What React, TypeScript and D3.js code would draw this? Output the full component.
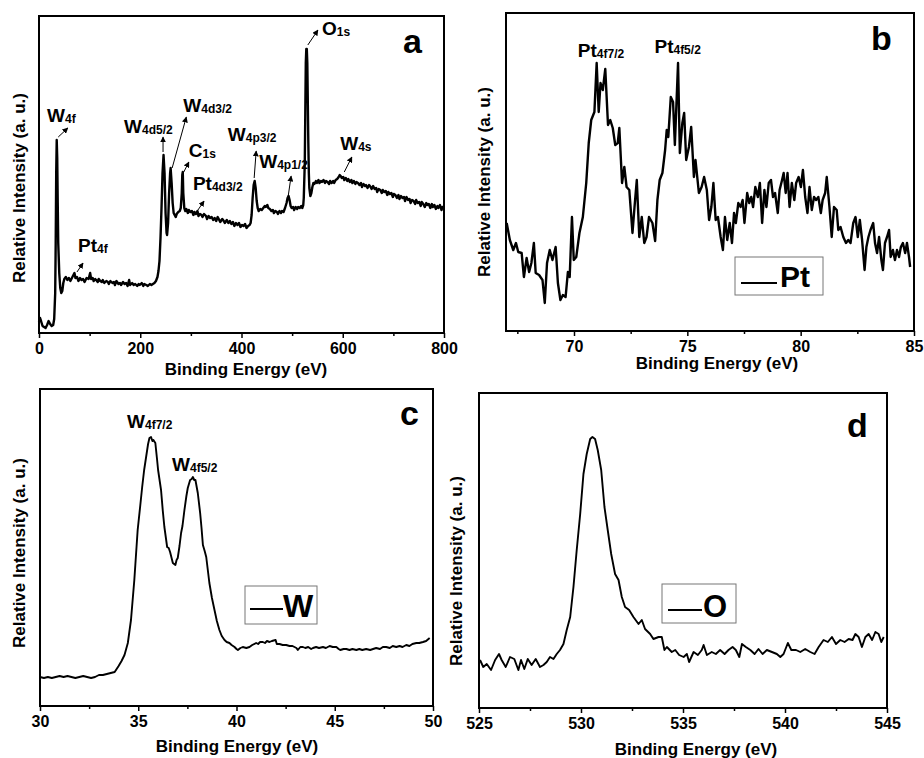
import React, { useEffect, useRef } from "react";
import * as d3 from "d3";

type P = [number, number];

// ---- data (binding energy eV, relative intensity a.u.) ----
const surveyData: P[] = [
  [0, 11], [2, 15], [4, 12], [7, 7], [10, 6], [13, 5], [16, 8], [19, 12], [22, 9], [25, 7], [28, 8], [30, 14],
  [32, 40], [33, 90], [34, 160], [35, 193], [36, 175], [37, 130], [38, 90], [40, 60], [42, 45], [44, 40], [46, 42],
  [48, 50], [50, 54], [53, 56], [56, 53], [59, 55], [62, 52], [65, 55], [68, 58], [70, 60], [72, 55], [75, 56],
  [78, 52], [81, 55], [84, 53], [87, 54], [90, 51], [94, 55], [98, 54], [101, 60], [103, 54], [106, 55], [108, 52],
  [111, 54], [113, 53], [116, 51], [118, 54], [121, 52], [124, 51], [126, 53], [129, 50], [133, 52], [136, 51],
  [138, 49], [141, 52], [145, 50], [148, 51], [150, 48], [153, 52], [157, 49], [160, 50], [162, 48], [166, 51],
  [169, 49], [172, 50], [175, 47], [178, 53], [180, 48], [184, 50], [187, 48], [190, 49], [194, 47], [197, 49],
  [199, 48], [203, 50], [206, 47], [208, 49], [212, 48], [215, 47], [219, 49], [222, 48], [225, 49], [228, 50],
  [231, 52], [234, 56], [236, 62], [238, 72], [240, 95], [242, 125], [244, 160], [246, 178], [248, 160], [250, 120],
  [252, 100], [253, 98], [255, 110], [257, 140], [259, 160], [260, 165], [262, 150], [264, 130], [266, 120],
  [268, 118], [270, 116], [272, 119], [275, 121], [278, 122], [280, 125], [282, 140], [283, 158], [284, 161],
  [285, 140], [287, 125], [289, 122], [291, 124], [294, 120], [296, 123], [299, 121], [302, 122], [305, 118],
  [307, 121], [310, 119], [313, 122], [315, 117], [318, 119], [321, 118], [323, 116], [326, 119], [330, 117],
  [332, 114], [335, 117], [338, 115], [341, 116], [344, 113], [347, 115], [350, 112], [353, 116], [356, 113],
  [358, 111], [362, 114], [365, 112], [367, 110], [371, 113], [374, 110], [377, 112], [380, 109], [383, 111],
  [386, 107], [389, 110], [392, 108], [395, 110], [398, 106], [401, 108], [404, 107], [407, 109], [410, 105],
  [413, 107], [416, 108], [418, 110], [420, 118], [422, 135], [424, 148], [426, 152], [428, 145], [430, 132],
  [432, 125], [434, 122], [437, 124], [440, 123], [443, 125], [446, 127], [448, 126], [451, 128], [453, 125],
  [456, 124], [459, 122], [462, 123], [464, 120], [467, 122], [470, 121], [472, 119], [475, 122], [478, 120],
  [480, 122], [483, 121], [486, 125], [489, 130], [491, 135], [493, 137], [495, 133], [497, 127], [499, 125],
  [502, 126], [504, 123], [507, 126], [510, 124], [512, 126], [515, 125], [518, 127], [520, 125], [522, 128],
  [523, 135], [525, 170], [526, 220], [527, 270], [528, 284], [529, 284], [530, 270], [531, 230], [532, 190],
  [533, 160], [534, 145], [536, 137], [538, 140], [540, 146], [542, 150], [544, 149], [547, 152], [549, 150],
  [552, 153], [554, 150], [557, 152], [559, 151], [562, 153], [565, 150], [567, 152], [570, 151], [573, 149],
  [575, 152], [578, 150], [581, 152], [583, 150], [586, 153], [589, 154], [592, 156], [594, 158], [596, 157],
  [598, 155], [601, 156], [603, 153], [606, 155], [609, 152], [611, 154], [614, 151], [617, 153], [619, 150],
  [622, 152], [625, 149], [627, 151], [630, 150], [633, 148], [636, 150], [638, 146], [641, 149], [644, 147],
  [646, 148], [649, 145], [652, 148], [655, 146], [657, 144], [660, 147], [663, 144], [666, 145], [668, 141],
  [671, 144], [674, 143], [677, 140], [679, 143], [682, 141], [685, 142], [688, 138], [690, 141], [693, 139],
  [696, 140], [699, 136], [701, 139], [704, 138], [707, 135], [710, 138], [712, 134], [715, 137], [718, 135],
  [721, 136], [723, 132], [726, 136], [729, 133], [732, 134], [734, 130], [737, 133], [740, 132], [743, 129],
  [745, 133], [748, 130], [751, 131], [754, 127], [756, 131], [759, 129], [762, 126], [765, 130], [767, 128],
  [770, 129], [773, 125], [776, 129], [778, 126], [781, 128], [784, 124], [787, 127], [789, 125], [792, 128],
  [795, 123], [797, 126], [800, 125],
];

const ptData: P[] = [
  [67.03, 108], [67.17, 91], [67.32, 81], [67.44, 88], [67.54, 79], [67.69, 78], [67.79, 54], [67.91, 73],
  [68.02, 59], [68.12, 68], [68.23, 88], [68.31, 58], [68.46, 56], [68.61, 51], [68.71, 28], [68.81, 68],
  [68.93, 81], [69.05, 71], [69.19, 84], [69.29, 48], [69.4, 31], [69.51, 36], [69.63, 34], [69.73, 59],
  [69.81, 54], [69.91, 114], [69.99, 71], [70.1, 74], [70.24, 98], [70.39, 114], [70.54, 148], [70.65, 188],
  [70.76, 211], [70.9, 219], [71.0, 268], [71.09, 219], [71.17, 248], [71.27, 241], [71.38, 262], [71.5, 206],
  [71.6, 211], [71.71, 203], [71.82, 186], [71.93, 188], [72.0, 203], [72.12, 148], [72.22, 164], [72.32, 144],
  [72.44, 141], [72.58, 98], [72.67, 124], [72.77, 151], [72.88, 94], [72.99, 114], [73.1, 88], [73.2, 94],
  [73.31, 114], [73.46, 108], [73.58, 90], [73.68, 131], [73.78, 151], [73.9, 158], [74.02, 181], [74.09, 201],
  [74.16, 194], [74.27, 234], [74.37, 229], [74.45, 186], [74.59, 268], [74.67, 178], [74.78, 208], [74.86, 218],
  [74.95, 171], [75.07, 184], [75.17, 204], [75.29, 154], [75.36, 171], [75.51, 138], [75.63, 144], [75.74, 154],
  [75.86, 141], [75.96, 111], [76.06, 124], [76.15, 148], [76.25, 111], [76.35, 114], [76.47, 94], [76.57, 81],
  [76.66, 114], [76.76, 91], [76.87, 108], [76.97, 88], [77.06, 118], [77.14, 108], [77.25, 128], [77.35, 124],
  [77.44, 131], [77.52, 108], [77.64, 138], [77.73, 128], [77.82, 134], [77.9, 124], [78.0, 144], [78.11, 134],
  [78.2, 148], [78.3, 108], [78.4, 141], [78.49, 124], [78.59, 148], [78.69, 151], [78.78, 134], [78.87, 138],
  [78.99, 118], [79.07, 141], [79.18, 151], [79.25, 158], [79.34, 138], [79.42, 158], [79.51, 124], [79.61, 148],
  [79.72, 131], [79.8, 148], [79.91, 154], [80.01, 144], [80.1, 161], [80.2, 134], [80.3, 118], [80.39, 144],
  [80.49, 121], [80.59, 134], [80.68, 131], [80.78, 134], [80.89, 118], [80.97, 131], [81.08, 138], [81.15, 154],
  [81.27, 124], [81.37, 94], [81.47, 124], [81.59, 121], [81.66, 101], [81.76, 104], [81.88, 94], [82.0, 88],
  [82.1, 91], [82.2, 88], [82.32, 108], [82.42, 114], [82.52, 94], [82.61, 111], [82.71, 91], [82.82, 61],
  [82.9, 84], [82.99, 94], [83.08, 101], [83.2, 108], [83.28, 88], [83.37, 78], [83.46, 94], [83.56, 71],
  [83.63, 61], [83.72, 88], [83.81, 94], [83.9, 101], [83.97, 74], [84.07, 81], [84.16, 71], [84.25, 81],
  [84.34, 74], [84.42, 84], [84.51, 88], [84.61, 78], [84.69, 88], [84.78, 74], [84.83, 64],
];

const wData: P[] = [
  [30.0, 29], [30.2, 28], [30.4, 29], [30.6, 28], [30.8, 29], [31.0, 30], [31.2, 29], [31.4, 30], [31.6, 29],
  [31.8, 28], [32.0, 29], [32.2, 30], [32.4, 29], [32.6, 28], [32.8, 29], [33.0, 31], [33.2, 31], [33.4, 32],
  [33.6, 33], [33.8, 34], [34.0, 40], [34.15, 45], [34.3, 51], [34.47, 63], [34.63, 86], [34.8, 126], [34.97, 176],
  [35.1, 200], [35.2, 219], [35.3, 236], [35.4, 249], [35.5, 262], [35.57, 268], [35.65, 269], [35.72, 265],
  [35.77, 266], [35.87, 263], [35.95, 248], [36.01, 236], [36.16, 216], [36.25, 195], [36.33, 179], [36.47, 159],
  [36.55, 158], [36.62, 154], [36.76, 143], [36.89, 141], [36.95, 146], [37.01, 148], [37.1, 160], [37.18, 173],
  [37.25, 180], [37.35, 196], [37.45, 210], [37.52, 218], [37.64, 226], [37.72, 227], [37.78, 229], [37.85, 226],
  [37.91, 226], [38.03, 213], [38.15, 193], [38.22, 178], [38.29, 161], [38.38, 155], [38.46, 149], [38.62, 123],
  [38.75, 108], [38.88, 96], [39.0, 85], [39.13, 76], [39.25, 70], [39.39, 66], [39.5, 64], [39.64, 63],
  [39.75, 61], [39.9, 59], [40.0, 57], [40.07, 56], [40.2, 58], [40.32, 59], [40.5, 58], [40.66, 59], [40.8, 61],
  [41.0, 63], [41.1, 62], [41.2, 64], [41.34, 64], [41.45, 63], [41.55, 65], [41.68, 64], [41.8, 65], [41.99, 66],
  [42.05, 62], [42.19, 62], [42.35, 61], [42.53, 61], [42.7, 60], [42.85, 60], [42.95, 59], [43.05, 58],
  [43.12, 56], [43.25, 59], [43.38, 59], [43.5, 58], [43.65, 59], [43.8, 57], [43.89, 58], [44.05, 59],
  [44.2, 58], [44.4, 59], [44.55, 58], [44.74, 60], [44.9, 59], [45.08, 59], [45.2, 57], [45.28, 56], [45.45, 57],
  [45.59, 57], [45.75, 56], [45.9, 57], [46.1, 56], [46.25, 57], [46.4, 56], [46.6, 57], [46.8, 56], [46.95, 57],
  [47.11, 58], [47.3, 57], [47.45, 59], [47.62, 59], [47.8, 58], [47.95, 60], [48.13, 59], [48.3, 60], [48.45, 59],
  [48.64, 61], [48.8, 60], [48.95, 62], [49.15, 63], [49.3, 63], [49.49, 64], [49.65, 65], [49.83, 68],
];

const oData: P[] = [
  [525.05, 48], [525.21, 41], [525.38, 44], [525.59, 38], [525.79, 48], [525.98, 54], [526.11, 48], [526.31, 41],
  [526.52, 51], [526.73, 49], [526.93, 38], [527.06, 48], [527.22, 39], [527.39, 49], [527.58, 43], [527.78, 49],
  [527.99, 41], [528.16, 43], [528.32, 46], [528.48, 51], [528.65, 49], [528.81, 54], [528.97, 58], [529.14, 64],
  [529.3, 78], [529.47, 91], [529.63, 121], [529.79, 158], [529.96, 194], [530.12, 234], [530.28, 254],
  [530.45, 269], [530.56, 271], [530.69, 269], [530.82, 258], [530.99, 238], [531.15, 201], [531.31, 178],
  [531.48, 154], [531.67, 134], [531.84, 128], [532.0, 111], [532.16, 101], [532.36, 98], [532.57, 91],
  [532.82, 84], [532.98, 88], [533.14, 79], [533.39, 74], [533.55, 69], [533.8, 71], [533.96, 71], [534.09, 58],
  [534.21, 61], [534.45, 56], [534.62, 58], [534.81, 53], [535.03, 51], [535.19, 54], [535.3, 46], [535.52, 56],
  [535.73, 53], [535.92, 58], [536.01, 63], [536.17, 53], [536.41, 56], [536.61, 54], [536.82, 58], [537.04, 54],
  [537.23, 58], [537.43, 61], [537.59, 58], [537.76, 51], [537.89, 64], [538.08, 61], [538.3, 58], [538.51, 54],
  [538.7, 59], [538.9, 54], [539.11, 58], [539.36, 56], [539.6, 54], [539.77, 51], [539.93, 54], [540.14, 65],
  [540.31, 58], [540.54, 58], [540.75, 56], [540.99, 59], [541.24, 56], [541.45, 54], [541.65, 61], [541.89, 68],
  [542.1, 66], [542.3, 71], [542.5, 64], [542.71, 68], [542.92, 66], [543.12, 69], [543.31, 68], [543.45, 74],
  [543.61, 71], [543.77, 61], [543.94, 71], [544.1, 74], [544.27, 68], [544.43, 76], [544.59, 74], [544.72, 66],
  [544.84, 71],
];

// tick values
const surveyMajor = [0, 200, 400, 600, 800];
const surveyMinor = [100, 300, 500, 700];
const ptMajor = [70, 75, 80, 85];
const ptMinor = [67.5, 72.5, 77.5, 82.5];
const wMajor = [30, 35, 40, 45, 50];
const wMinor = [32.5, 37.5, 42.5, 47.5];
const oMajor = [525, 530, 535, 540, 545];
const oMinor = [527.5, 532.5, 537.5, 542.5];

// peak labels: text anchor and arrow in data units
type Note = { main: string; sub: string; at: P; arrow?: [P, P] };
const surveyNotes: Note[] = [
  { main: "W", sub: "4f", at: [16, 211], arrow: [[38, 196], [57, 205]] },
  { main: "Pt", sub: "4f", at: [77, 81], arrow: [[75, 61], [87, 70]] },
  { main: "W", sub: "4d5/2", at: [168, 200], arrow: [[245, 181], [245, 196]] },
  { main: "W", sub: "4d3/2", at: [285, 221], arrow: [[263, 165], [291, 216]] },
  { main: "C", sub: "1s", at: [296, 176], arrow: [[286, 161], [296, 171]] },
  { main: "Pt", sub: "4d3/2", at: [304, 143], arrow: [[314, 123], [326, 132]] },
  { main: "W", sub: "4p3/2", at: [373, 192], arrow: [[425, 155], [429, 182]] },
  { main: "W", sub: "4p1/2", at: [435, 165], arrow: [[492, 136], [498, 157]] },
  { main: "O", sub: "1s", at: [559, 298], arrow: [[531, 288], [551, 303]] },
  { main: "W", sub: "4s", at: [595, 183], arrow: [[603, 161], [618, 176]] },
];
const ptNotes: Note[] = [
  { main: "Pt", sub: "4f7/2", at: [70.17, 274] },
  { main: "Pt", sub: "4f5/2", at: [73.55, 278] },
];
const wNotes: Note[] = [
  { main: "W", sub: "4f7/2", at: [34.43, 278] },
  { main: "W", sub: "4f5/2", at: [36.72, 235] },
];

const FONT = "'Liberation Sans', Arial, Helvetica, sans-serif";

const panels = [
  {
    letter: "a", frame: { l: 39, r: 444, t: 16, b: 333 }, xDomain: [0, 800], yMax: 317,
    data: surveyData, major: surveyMajor, minor: surveyMinor, width: 2.4, notes: surveyNotes,
    letterPos: [403, 53], xTitle: [246, 375], yTitle: [25, 188], legend: null as any,
  },
  {
    letter: "b", frame: { l: 506, r: 914, t: 13, b: 331 }, xDomain: [67, 85], yMax: 318,
    data: ptData, major: ptMajor, minor: ptMinor, width: 2.4, notes: ptNotes,
    letterPos: [871, 50], xTitle: [717, 369], yTitle: [490, 182],
    legend: { name: "Pt", box: [735, 257, 88, 38], line: [741, 777, 283], text: [780, 287], size: 30 },
  },
  {
    letter: "c", frame: { l: 40, r: 433, t: 389, b: 706 }, xDomain: [30, 50], yMax: 317,
    data: wData, major: wMajor, minor: wMinor, width: 1.9, notes: wNotes,
    letterPos: [400, 425], xTitle: [237, 752], yTitle: [25, 553],
    legend: { name: "W", box: [245, 586, 72, 38], line: [250, 283, 609], text: [283, 617], size: 32 },
  },
  {
    letter: "d", frame: { l: 479, r: 887, t: 393, b: 708 }, xDomain: [525, 545], yMax: 315,
    data: oData, major: oMajor, minor: oMinor, width: 1.9, notes: [] as Note[],
    letterPos: [847, 437], xTitle: [696, 755], yTitle: [462, 571],
    legend: { name: "O", box: [662, 584, 74, 39], line: [668, 702, 610], text: [703, 617], size: 31 },
  },
];

export default function App() {
  const svgRef = useRef<SVGSVGElement>(null);

  useEffect(() => {
    const svg = d3.select(svgRef.current);
    svg.selectAll("*").remove();

    svg.append("defs").append("marker")
      .attr("id", "arrowHead")
      .attr("viewBox", "0 0 10 10")
      .attr("refX", 9).attr("refY", 5)
      .attr("markerWidth", 6).attr("markerHeight", 6)
      .attr("markerUnits", "userSpaceOnUse")
      .attr("orient", "auto")
      .append("path").attr("d", "M0,0 L10,5 L0,10 z").attr("fill", "#000");

    panels.forEach((p) => {
      const f = p.frame;
      const x = d3.scaleLinear().domain(p.xDomain).range([f.l, f.r]);
      const y = d3.scaleLinear().domain([0, p.yMax]).range([f.b, f.t]);
      const g = svg.append("g");

      // spectrum
      g.append("path")
        .datum(p.data)
        .attr("fill", "none")
        .attr("stroke", "#000")
        .attr("stroke-width", p.width)
        .attr("stroke-linejoin", "round")
        .attr("d", d3.line<P>().x(d => x(d[0])).y(d => y(d[1])));

      // bottom axis, major + minor ticks
      const ax = g.append("g")
        .attr("transform", `translate(0,${f.b})`)
        .call(d3.axisBottom(x).tickValues(p.major).tickSize(5).tickPadding(5).tickSizeOuter(0).tickFormat(d3.format("d")));
      ax.select(".domain").remove();
      ax.selectAll("line").attr("stroke-width", 1.5);
      ax.selectAll("text")
        .attr("font-family", FONT).attr("font-size", 16).attr("font-weight", "bold").attr("fill", "#000");
      const mn = g.append("g")
        .attr("transform", `translate(0,${f.b})`)
        .call(d3.axisBottom(x).tickValues(p.minor).tickSize(3).tickSizeOuter(0).tickFormat(() => ""));
      mn.select(".domain").remove();
      mn.selectAll("line").attr("stroke-width", 1.5);

      // frame
      g.append("rect")
        .attr("x", f.l).attr("y", f.t)
        .attr("width", f.r - f.l).attr("height", f.b - f.t)
        .attr("fill", "none").attr("stroke", "#000").attr("stroke-width", 2);

      const txt = (sel: any) => sel.attr("font-family", FONT).attr("font-weight", "bold").attr("fill", "#000");

      g.append("text").call(txt)
        .attr("x", p.xTitle[0]).attr("y", p.xTitle[1])
        .attr("text-anchor", "middle").attr("font-size", 17)
        .text("Binding Energy (eV)");

      g.append("text").call(txt)
        .attr("transform", `translate(${p.yTitle[0]},${p.yTitle[1]}) rotate(-90)`)
        .attr("text-anchor", "middle").attr("font-size", 17)
        .text("Relative Intensity (a. u.)");

      g.append("text").call(txt)
        .attr("x", p.letterPos[0]).attr("y", p.letterPos[1])
        .attr("font-size", 34)
        .text(p.letter);

      // peak labels
      p.notes.forEach((n) => {
        const t = g.append("text").call(txt)
          .attr("x", x(n.at[0])).attr("y", y(n.at[1]));
        t.append("tspan").attr("font-size", 19).text(n.main);
        t.append("tspan").attr("font-size", 12).attr("dy", 1).text(n.sub);
        if (n.arrow) {
          g.append("line")
            .attr("x1", x(n.arrow[0][0])).attr("y1", y(n.arrow[0][1]))
            .attr("x2", x(n.arrow[1][0])).attr("y2", y(n.arrow[1][1]))
            .attr("stroke", "#000").attr("stroke-width", 1)
            .attr("marker-end", "url(#arrowHead)");
        }
      });

      // legend
      if (p.legend) {
        const L = p.legend;
        g.append("rect")
          .attr("x", L.box[0]).attr("y", L.box[1]).attr("width", L.box[2]).attr("height", L.box[3])
          .attr("fill", "#fff").attr("stroke", "#777").attr("stroke-width", 1);
        g.append("line")
          .attr("x1", L.line[0]).attr("x2", L.line[1]).attr("y1", L.line[2]).attr("y2", L.line[2])
          .attr("stroke", "#000").attr("stroke-width", 2);
        g.append("text").call(txt)
          .attr("x", L.text[0]).attr("y", L.text[1]).attr("font-size", L.size)
          .text(L.name);
      }
    });
  }, []);

  return (
    <svg
      ref={svgRef}
      width={924}
      height={758}
      style={{ position: "absolute", left: 0, top: 0, background: "#fff" }}
    />
  );
}
